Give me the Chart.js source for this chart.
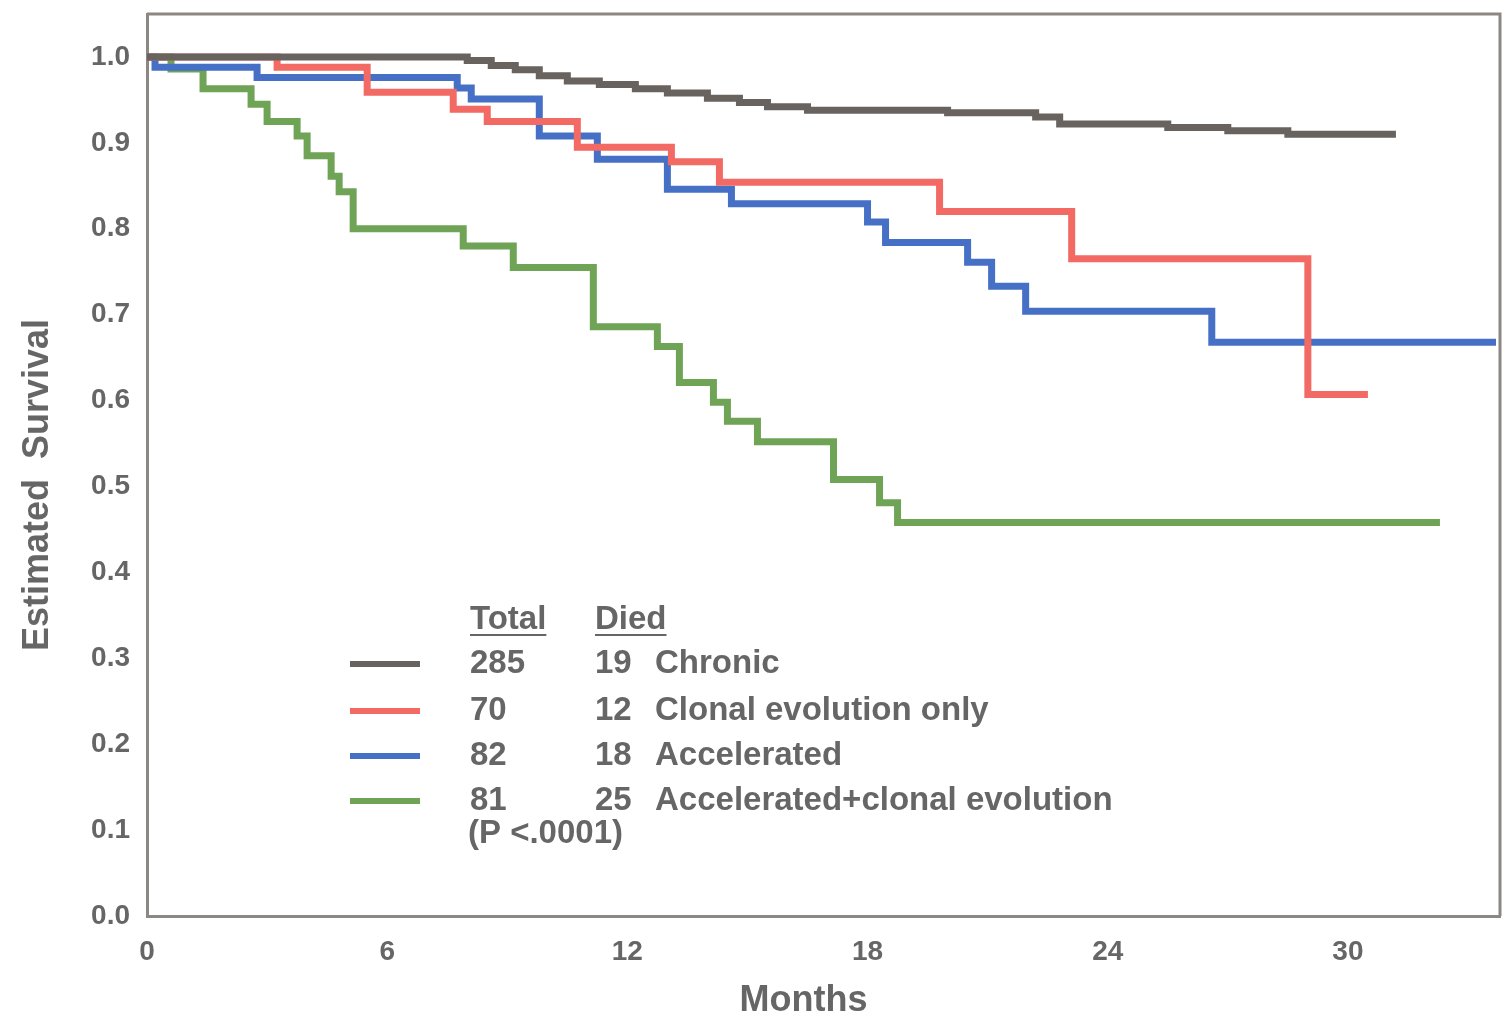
<!DOCTYPE html>
<html>
<head>
<meta charset="utf-8">
<script src="https://cdn.jsdelivr.net/npm/chart.js@4.4.1/dist/chart.umd.min.js"></script>
<style>
  html, body { margin: 0; padding: 0; background: #fff; }
  #wrap { width: 1505px; height: 1025px; position: relative; }
</style>
</head>
<body>
<div id="wrap"><canvas id="km"></canvas></div>
<script>
// Kaplan-Meier curves, months vs estimated survival
const chronicMonths = [0, 8.0, 8.6, 9.2, 9.8, 10.5, 11.3, 12.2, 13.0, 14.0, 14.8, 15.5, 16.5, 20.0, 22.2, 22.8, 25.5, 27.0, 28.5, 31.2];
const chronicSurv   = [1.0, 0.996, 0.99, 0.985, 0.978, 0.972, 0.968, 0.963, 0.958, 0.952, 0.947, 0.942, 0.938, 0.935, 0.93, 0.922, 0.918, 0.914, 0.91, 0.91];

const clonalMonths = [0, 3.25, 5.5, 7.65, 8.5, 10.75, 13.1, 14.3, 19.8, 23.1, 29.0, 30.5];
const clonalSurv   = [1.0, 0.988, 0.959, 0.939, 0.925, 0.895, 0.878, 0.854, 0.82, 0.765, 0.607, 0.607];

const accelMonths = [0, 0.2, 2.75, 7.75, 8.1, 9.8, 11.25, 13.0, 14.6, 18.0, 18.45, 20.5, 21.1, 21.95, 26.6, 33.7];
const accelSurv   = [1.0, 0.988, 0.976, 0.964, 0.951, 0.908, 0.881, 0.846, 0.829, 0.808, 0.784, 0.761, 0.733, 0.704, 0.668, 0.668];

const accClonMonths = [0, 0.6, 1.4, 2.6, 3.0, 3.75, 4.0, 4.6, 4.8, 5.15, 7.9, 9.15, 11.15, 12.75, 13.3, 14.15, 14.5, 15.25, 17.15, 18.3, 18.75, 32.3];
const accClonSurv   = [1.0, 0.986, 0.963, 0.945, 0.925, 0.908, 0.885, 0.861, 0.843, 0.80, 0.78, 0.755, 0.686, 0.663, 0.621, 0.598, 0.576, 0.552, 0.508, 0.481, 0.458, 0.458];

const groupNames = ['Chronic', 'Clonal evolution only', 'Accelerated', 'Accelerated+clonal evolution'];
const groupTotal = [285, 70, 82, 81];
const groupDied  = [19, 12, 18, 25];
const pValueText = '(P <.0001)';

const xTicks = [0, 6, 12, 18, 24, 30];
const yTicks = [0, 0.1, 0.2, 0.3, 0.4, 0.5, 0.6, 0.7, 0.8, 0.9, 1.0];

const colors = ['#68635f', '#f26a63', '#4670c6', '#6fa456'];
const textColor = '#666';
const frameColor = '#8d8782';
const fontFam = '"Liberation Sans", Arial, sans-serif';

function pts(xs, ys) {
  return xs.map((x, i) => ({ x: x, y: ys[i] }));
}

const series = [
  pts(chronicMonths, chronicSurv),
  pts(clonalMonths, clonalSurv),
  pts(accelMonths, accelSurv),
  pts(accClonMonths, accClonSurv)
];

// top and right edge of the frame
const framePlugin = {
  id: 'frame',
  beforeDatasetsDraw(chart) {
    const { ctx, chartArea: a } = chart;
    ctx.save();
    ctx.strokeStyle = frameColor;
    ctx.lineWidth = 3;
    ctx.beginPath();
    ctx.moveTo(a.left, a.top);
    ctx.lineTo(a.right, a.top);
    ctx.lineTo(a.right, a.bottom);
    ctx.stroke();
    ctx.restore();
  }
};

// table-like legend inside the plot
const tablePlugin = {
  id: 'kmTable',
  afterDraw(chart) {
    const ctx = chart.ctx;
    const lineX0 = 350, lineX1 = 420;
    const totalX = 470, diedX = 595, nameX = 655;
    const headY = 620;
    const rowY = [664, 711, 756, 801];
    ctx.save();
    ctx.font = 'bold 33px ' + fontFam;
    ctx.fillStyle = textColor;
    ctx.textBaseline = 'middle';
    ctx.textAlign = 'left';

    ctx.fillText('Total', totalX, headY);
    ctx.fillText('Died', diedX, headY);
    ctx.strokeStyle = textColor;
    ctx.lineWidth = 2;
    ctx.beginPath();
    const wt = ctx.measureText('Total').width;
    const wd = ctx.measureText('Died').width;
    ctx.moveTo(totalX, headY + 15); ctx.lineTo(totalX + wt, headY + 15);
    ctx.moveTo(diedX, headY + 15); ctx.lineTo(diedX + wd, headY + 15);
    ctx.stroke();

    groupNames.forEach((name, i) => {
      ctx.strokeStyle = colors[i];
      ctx.lineWidth = 6;
      ctx.beginPath();
      ctx.moveTo(lineX0, rowY[i]);
      ctx.lineTo(lineX1, rowY[i]);
      ctx.stroke();
      ctx.fillText(String(groupTotal[i]), totalX, rowY[i]);
      ctx.fillText(String(groupDied[i]), diedX, rowY[i]);
      ctx.fillText(name, nameX, rowY[i]);
    });
    ctx.fillText(pValueText, 468, 834);
    ctx.restore();
  }
};

new Chart(document.getElementById('km'), {
  type: 'line',
  data: {
    datasets: series.map((d, i) => ({
      label: groupNames[i],
      data: d,
      borderColor: colors[i],
      borderWidth: 7,
      stepped: true,
      pointRadius: 0,
      fill: false
    }))
  },
  options: {
    responsive: true,
    maintainAspectRatio: false,
    animation: false,
    layout: { padding: { top: 14, right: 5, left: 0, bottom: 0 } },
    plugins: {
      legend: { display: false },
      tooltip: { enabled: false }
    },
    scales: {
      x: {
        type: 'linear',
        min: 0,
        max: 33.8,
        afterBuildTicks: s => { s.ticks = xTicks.map(v => ({ value: v })); },
        afterFit: s => { s.height = 109; s.paddingLeft = 0; s.paddingRight = 0; },
        grid: { display: false, drawTicks: false },
        border: { color: frameColor, width: 3 },
        ticks: {
          color: textColor,
          padding: 19,
          font: { family: fontFam, size: 28, weight: 'bold' }
        },
        title: {
          display: true,
          text: 'Months    ',
          color: textColor,
          padding: { top: 0, bottom: 2 },
          font: { family: fontFam, size: 36, weight: 'bold' }
        }
      },
      y: {
        min: 0,
        max: 1.05,
        afterBuildTicks: s => { s.ticks = yTicks.map(v => ({ value: v })); },
        afterFit: s => { s.width = 147; s.paddingTop = 0; s.paddingBottom = 0; },
        grid: { display: false, drawTicks: false },
        border: { color: frameColor, width: 3 },
        ticks: {
          color: textColor,
          padding: 17,
          callback: v => Number(v).toFixed(1),
          font: { family: fontFam, size: 28, weight: 'bold' }
        },
        title: {
          display: true,
          text: 'Estimated  Survival    ',
          color: textColor,
          padding: { top: 16, bottom: 0 },
          font: { family: fontFam, size: 36, weight: 'bold' }
        }
      }
    }
  },
  plugins: [framePlugin, tablePlugin]
});
</script>
</body>
</html>
